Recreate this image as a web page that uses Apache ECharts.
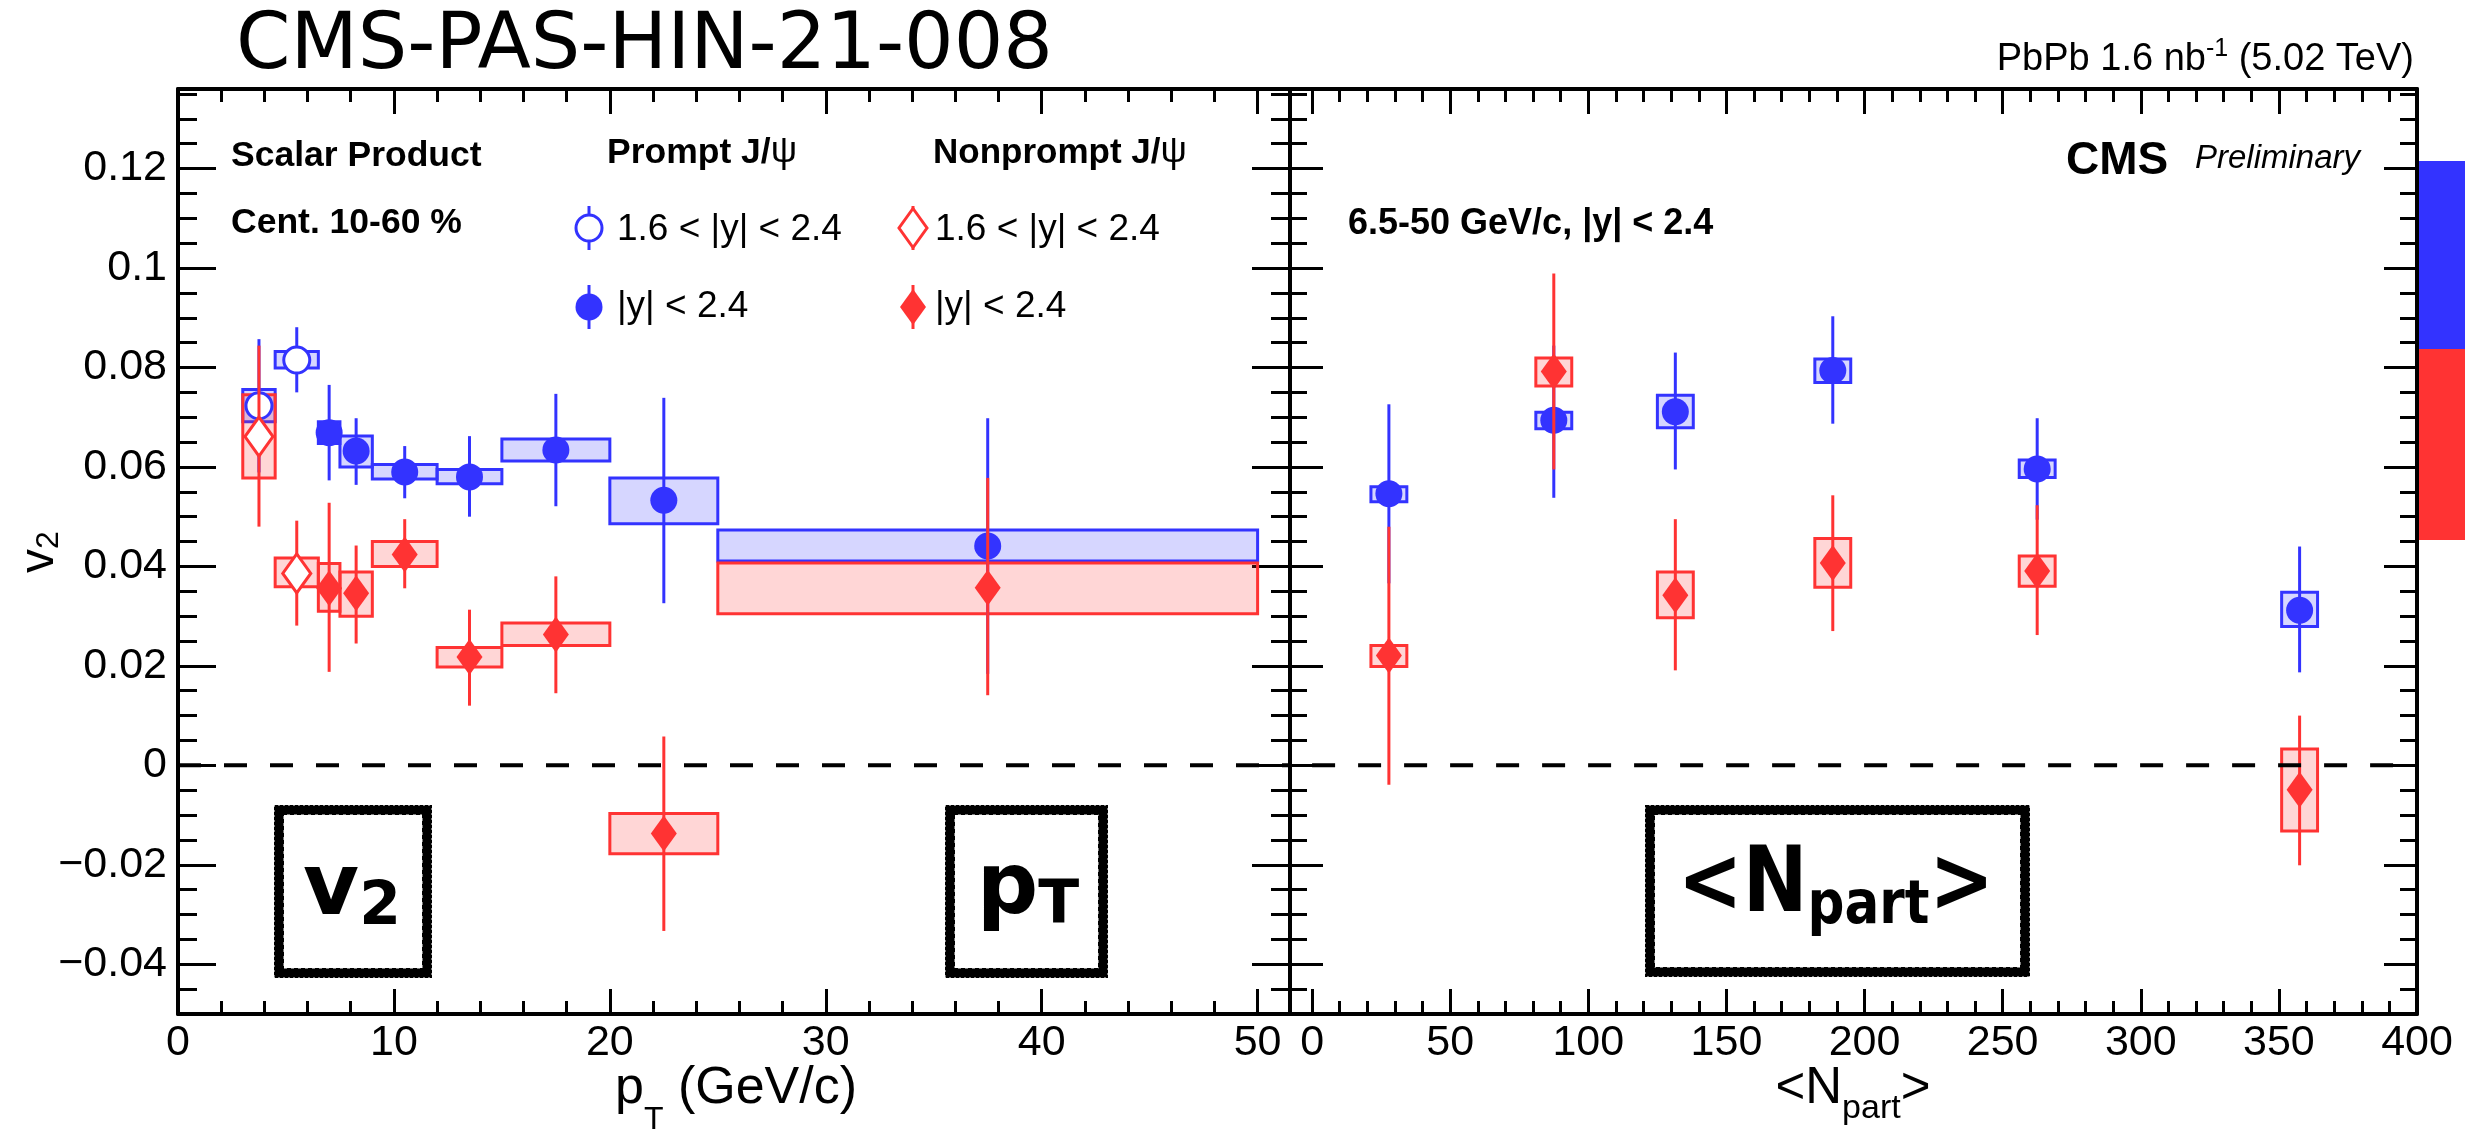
<!DOCTYPE html>
<html>
<head>
<meta charset="utf-8">
<script src="https://cdn.jsdelivr.net/npm/echarts@6/dist/echarts.min.js"></script>
<style>
  html, body { margin: 0; padding: 0; background: #fff; }
  #chart { width: 2465px; height: 1135px; }
</style>
</head>
<body>
<div id="chart"></div>
<script>
// ---------------- data ----------------
// v2 vs pT, prompt J/psi, 1.6 < |y| < 2.4 (open circles)
const ptFwdX      = [3.75, 5.5];
const ptFwdBinLo  = [3.0, 4.5];
const ptFwdBinHi  = [4.5, 6.5];
const promptFwdV2     = [0.0723, 0.0815];
const promptFwdSysLo  = [0.0691, 0.0799];
const promptFwdSysHi  = [0.0756, 0.0832];
const promptFwdStatLo = [0.0589, 0.0750];
const promptFwdStatHi = [0.0857, 0.0881];

// v2 vs pT, nonprompt J/psi, 1.6 < |y| < 2.4 (open diamonds)
const nonpromptFwdV2     = [0.0661, 0.0386];
const nonpromptFwdSysLo  = [0.0578, 0.0359];
const nonpromptFwdSysHi  = [0.0745, 0.0417];
const nonpromptFwdStatLo = [0.0480, 0.0281];
const nonpromptFwdStatHi = [0.0844, 0.0492];

// v2 vs pT, |y| < 2.4
const ptX     = [7.0, 8.25, 10.5, 13.5, 17.5, 22.5, 37.5];
const ptBinLo = [6.5, 7.5, 9, 12, 15, 20, 25];
const ptBinHi = [7.5, 9, 12, 15, 20, 25, 50];
const promptV2     = [0.0669, 0.0632, 0.0590, 0.0580, 0.0634, 0.0533, 0.0441];
const promptSysLo  = [0.0647, 0.0600, 0.0576, 0.0566, 0.0612, 0.0486, 0.0411];
const promptSysHi  = [0.0691, 0.0662, 0.0605, 0.0595, 0.0656, 0.0578, 0.0473];
const promptStatLo = [0.0573, 0.0564, 0.0537, 0.0500, 0.0521, 0.0326, 0.0184];
const promptStatHi = [0.0765, 0.0698, 0.0642, 0.0662, 0.0747, 0.0739, 0.0698];
const nonpromptV2     = [0.0356, 0.0346, 0.0424, 0.0218, 0.0263, -0.0137, 0.0357];
const nonpromptSysLo  = [0.0310, 0.0300, 0.0400, 0.0198, 0.0241, -0.0178, 0.0305];
const nonpromptSysHi  = [0.0406, 0.0389, 0.0450, 0.0237, 0.0286, -0.0097, 0.0407];
const nonpromptStatLo = [0.0188, 0.0245, 0.0356, 0.0120, 0.0145, -0.0333, 0.0141];
const nonpromptStatHi = [0.0528, 0.0442, 0.0495, 0.0313, 0.0380, 0.0058, 0.0578];

// v2 vs <Npart>, 6.5-50 GeV/c, |y| < 2.4
const npartX = [27.8, 87.5, 131.5, 188.5, 262.5, 357.5];
const promptNpartV2     = [0.0546, 0.0694, 0.0711, 0.0794, 0.0596, 0.0312];
const promptNpartSysLo  = [0.0530, 0.0677, 0.0679, 0.0770, 0.0579, 0.0279];
const promptNpartSysHi  = [0.0560, 0.0710, 0.0744, 0.0817, 0.0614, 0.0348];
const promptNpartStatLo = [0.0366, 0.0538, 0.0595, 0.0687, 0.0494, 0.0187];
const promptNpartStatHi = [0.0726, 0.0844, 0.0830, 0.0903, 0.0698, 0.0440];
const nonpromptNpartV2     = [0.0221, 0.0792, 0.0342, 0.0407, 0.0391, -0.0049];
const nonpromptNpartSysLo  = [0.0199, 0.0763, 0.0297, 0.0358, 0.0360, -0.0132];
const nonpromptNpartSysHi  = [0.0241, 0.0819, 0.0389, 0.0456, 0.0421, 0.0033];
const nonpromptNpartStatLo = [-0.0039, 0.0595, 0.0191, 0.0270, 0.0262, -0.0201];
const nonpromptNpartStatHi = [0.0480, 0.0989, 0.0495, 0.0543, 0.0523, 0.0100];

// axes
const ptRange     = [0, 51.5];
const npartRange  = [-8, 400];
const v2Range     = [-0.05, 0.136];
const ptTicks     = [0, 10, 20, 30, 40, 50];
const npartTicks  = [0, 50, 100, 150, 200, 250, 300, 350, 400];
const v2Ticks      = [-0.04, -0.02, 0, 0.02, 0.04, 0.06, 0.08, 0.1, 0.12];
const v2TickLabels = ['\u22120.04', '\u22120.02', '0', '0.02', '0.04', '0.06', '0.08', '0.1', '0.12'];
const zeroLinePt    = [0, 51.5];
const zeroLineNpart = [0, 400];

// ---------------- styling ----------------
const BLUE = '#3333ff', RED = '#ff3333';
const BLUE_FILL = 'rgba(51,51,255,0.2)', RED_FILL = 'rgba(255,51,51,0.2)';
const NPART_BOX_HALF = 6.5;   // half width of systematic boxes on the Npart axis
const HELV = 'Liberation Sans';
const DV = 'DejaVu Sans';

function minorList(majorStep, nSub, lo, hi) {
  const out = [];
  const step = majorStep / nSub;
  const kLo = Math.ceil(lo / step - 1e-9), kHi = Math.floor(hi / step + 1e-9);
  for (let k = kLo; k <= kHi; k++) {
    if (k % nSub !== 0) out.push(Number((k * step).toFixed(6)));
  }
  return out;
}
const ptMinor    = minorList(10, 5, 0, 50);
const npartMinor = minorList(50, 5, 0, 400);
const v2Minor    = minorList(0.02, 4, -0.045, 0.135);

const FRAME = { show: true, onZero: false, lineStyle: { color: '#000', width: 4 } };
const NOLINE = { show: false, onZero: false };
function tick(vals, len) {
  return { show: true, inside: true, length: len, customValues: vals,
           lineStyle: { color: '#000', width: 3 } };
}

function xAxesFor(grid, range, major, minor) {
  const base = { gridIndex: grid, type: 'value', min: range[0], max: range[1],
                 splitLine: { show: false }, axisPointer: { show: false } };
  return [
    Object.assign({}, base, { position: 'bottom', axisLine: FRAME, axisTick: tick(major, 25),
      axisLabel: { show: true, customValues: major, margin: 8, fontSize: 43,
                   fontFamily: HELV, color: '#000' } }),
    Object.assign({}, base, { position: 'bottom', axisLine: NOLINE, axisTick: tick(minor, 13),
      axisLabel: { show: false } }),
    Object.assign({}, base, { position: 'top', axisLine: FRAME, axisTick: tick(major, 25),
      axisLabel: { show: false } }),
    Object.assign({}, base, { position: 'top', axisLine: NOLINE, axisTick: tick(minor, 13),
      axisLabel: { show: false } })
  ];
}

function yAxesFor(grid, withLabels, majorLen, minorLen) {
  const base = { gridIndex: grid, type: 'value', min: v2Range[0], max: v2Range[1],
                 splitLine: { show: false }, axisPointer: { show: false } };
  const label = withLabels ? {
    show: true, customValues: v2Ticks, margin: 11, fontSize: 43, fontFamily: HELV, color: '#000',
    formatter: v => {
      const i = v2Ticks.findIndex(t => Math.abs(t - v) < 1e-9);
      return i >= 0 ? v2TickLabels[i] : '';
    }
  } : { show: false };
  return [
    Object.assign({}, base, { position: 'left', axisLine: FRAME, axisTick: tick(v2Ticks, majorLen), axisLabel: label }),
    Object.assign({}, base, { position: 'left', axisLine: NOLINE, axisTick: tick(v2Minor, minorLen), axisLabel: { show: false } }),
    Object.assign({}, base, { position: 'right', axisLine: FRAME, axisTick: tick(v2Ticks, majorLen), axisLabel: { show: false } }),
    Object.assign({}, base, { position: 'right', axisLine: NOLINE, axisTick: tick(v2Minor, minorLen), axisLabel: { show: false } })
  ];
}

// ---------------- marks ----------------
function markerShape(kind, cx, cy, color) {
  switch (kind) {
    case 'circle':
      return { type: 'circle', shape: { cx, cy, r: 13.5 }, style: { fill: color } };
    case 'circleOpen':
      return { type: 'circle', shape: { cx, cy, r: 13 }, style: { fill: '#fff', stroke: color, lineWidth: 3 } };
    case 'diamond':
      return { type: 'polygon', shape: { points: [[cx, cy - 18], [cx + 13, cy], [cx, cy + 18], [cx - 13, cy]] },
               style: { fill: color } };
    default:
      return { type: 'polygon', shape: { points: [[cx, cy - 19.5], [cx + 14, cy], [cx, cy + 19.5], [cx - 14, cy]] },
               style: { fill: '#fff', stroke: color, lineWidth: 3 } };
  }
}

function boxSeries(axisIdx, xLo, xHi, yLo, yHi, color, fill) {
  return {
    type: 'custom', xAxisIndex: axisIdx, yAxisIndex: axisIdx, silent: true,
    data: xLo.map((_, i) => [xLo[i], xHi[i], yLo[i], yHi[i]]),
    encode: { x: [0, 1], y: [2, 3] },
    renderItem(params, api) {
      const a = api.coord([api.value(0), api.value(3)]);
      const b = api.coord([api.value(1), api.value(2)]);
      return { type: 'rect', shape: { x: a[0], y: a[1], width: b[0] - a[0], height: b[1] - a[1] },
               style: { fill, stroke: color, lineWidth: 3 } };
    }
  };
}

function pointSeries(axisIdx, xs, ys, lo, hi, kind, color) {
  return {
    type: 'custom', xAxisIndex: axisIdx, yAxisIndex: axisIdx, silent: true,
    data: xs.map((x, i) => [x, ys[i], lo[i], hi[i]]),
    encode: { x: 0, y: [1, 2, 3] },
    renderItem(params, api) {
      const c = api.coord([api.value(0), api.value(1)]);
      const top = api.coord([api.value(0), api.value(3)]);
      const bot = api.coord([api.value(0), api.value(2)]);
      return { type: 'group', children: [
        { type: 'line', shape: { x1: c[0], y1: top[1], x2: c[0], y2: bot[1] },
          style: { stroke: color, lineWidth: 3 } },
        markerShape(kind, c[0], c[1], color)
      ] };
    }
  };
}

function zeroLine(axisIdx, xr) {
  return { type: 'line', xAxisIndex: axisIdx, yAxisIndex: axisIdx, silent: true, symbol: 'none',
           data: [[xr[0], 0], [xr[1], 0]],
           lineStyle: { color: '#000', width: 4, type: [23, 23] } };
}

const npBoxLo = npartX.map(x => x - NPART_BOX_HALF);
const npBoxHi = npartX.map(x => x + NPART_BOX_HALF);

// ---------------- text helpers ----------------
const mctx = document.createElement('canvas').getContext('2d');
function fontOf(p) {
  return (p.style || 'normal') + ' ' + (p.weight || 'normal') + ' ' + p.size + 'px "' + (p.family || HELV) + '"';
}
// lays out a run of text pieces on a common baseline
function run(x, baseline, pieces, align) {
  const widths = pieces.map(p => { mctx.font = fontOf(p); return mctx.measureText(p.t).width; });
  const total = widths.reduce((a, b) => a + b, 0);
  let cx = align === 'right' ? x - total : align === 'center' ? x - total / 2 : x;
  return pieces.map((p, i) => {
    const el = {
      type: 'text', x: cx, y: baseline + (p.dy || 0) - 0.346 * p.size, silent: true,
      style: { text: p.t, fill: p.color || '#000', fontSize: p.size, fontFamily: p.family || HELV,
               fontWeight: p.weight || 'normal', fontStyle: p.style || 'normal',
               align: 'left', verticalAlign: 'middle', textAlign: 'left', textVerticalAlign: 'middle' }
    };
    cx += widths[i];
    return el;
  });
}
// same run, horizontally squeezed about its centre
function squeezedRun(cx, baseline, pieces, sx) {
  return [{ type: 'group', x: cx, y: baseline, scaleX: sx, silent: true,
            children: run(0, 0, pieces, 'center') }];
}

function legendGlyph(kind, cx, cy, color) {
  return [
    { type: 'line', silent: true, shape: { x1: cx, y1: cy - 22, x2: cx, y2: cy + 22 },
      style: { stroke: color, lineWidth: 3 } },
    Object.assign(markerShape(kind, cx, cy, color), { silent: true })
  ];
}

function sketchBox(x0, y0, x1, y1) {
  return [
    { type: 'rect', silent: true, shape: { x: x0 + 5, y: y0 + 5, width: x1 - x0 - 10, height: y1 - y0 - 10 },
      style: { fill: 'none', stroke: '#000', lineWidth: 9 } },
    { type: 'rect', silent: true, shape: { x: x0 + 1, y: y0 + 1, width: x1 - x0 - 2, height: y1 - y0 - 2 },
      style: { fill: 'none', stroke: '#000', lineWidth: 2, lineDash: [3, 2] } },
    { type: 'rect', silent: true, shape: { x: x0 + 9, y: y0 + 9, width: x1 - x0 - 18, height: y1 - y0 - 18 },
      style: { fill: 'none', stroke: '#000', lineWidth: 2, lineDash: [4, 3] } }
  ];
}

const graphics = [].concat(
  run(236, 75, [{ t: 'CMS-PAS-HIN-21-008', size: 78, family: DV }]),
  run(2414, 73, [{ t: 'PbPb 1.6 nb', size: 38 }, { t: '-1', size: 25, dy: -15 }, { t: ' (5.02 TeV)', size: 38 }], 'right'),
  run(231, 168, [{ t: 'Scalar Product', size: 35.5, weight: 'bold' }]),
  run(231, 235, [{ t: 'Cent. 10-60 %', size: 35.5, weight: 'bold' }]),
  run(607, 165, [{ t: 'Prompt J/', size: 35.5, weight: 'bold' }, { t: '\u03c8', size: 37 }]),
  run(933, 165, [{ t: 'Nonprompt J/', size: 35, weight: 'bold' }, { t: '\u03c8', size: 37 }]),
  legendGlyph('circleOpen', 589, 228, BLUE),
  run(617, 243, [{ t: '1.6 < |y| < 2.4', size: 37 }]),
  legendGlyph('circle', 589, 307, BLUE),
  run(617, 320, [{ t: '|y| < 2.4', size: 37 }]),
  legendGlyph('diamondOpen', 913, 228, RED),
  run(935, 243, [{ t: '1.6 < |y| < 2.4', size: 37 }]),
  legendGlyph('diamond', 913, 307, RED),
  run(935, 320, [{ t: '|y| < 2.4', size: 37 }]),
  run(1348, 237, [{ t: '6.5-50 GeV/c, |y| < 2.4', size: 36, weight: 'bold' }]),
  run(2066, 177, [{ t: 'CMS', size: 46, weight: 'bold' }]),
  run(2195, 170, [{ t: 'Preliminary', size: 33, style: 'italic' }]),
  // axis titles
  run(736, 1107, [{ t: 'p', size: 52 }, { t: 'T', size: 32, dy: 24 }, { t: ' (GeV/c)', size: 52 }], 'center'),
  run(1853, 1107, [{ t: '<N', size: 51 }, { t: 'part', size: 34, dy: 13 }, { t: '>', size: 51 }], 'center'),
  [{ type: 'group', x: 56, y: 552, rotation: Math.PI / 2, silent: true,
     children: run(0, 0, [{ t: 'v', size: 48 }, { t: '2', size: 32, dy: 4 }], 'center') }],
  // side colour strip
  [{ type: 'rect', silent: true, shape: { x: 2418, y: 161, width: 47, height: 188 }, style: { fill: BLUE } },
   { type: 'rect', silent: true, shape: { x: 2418, y: 349, width: 47, height: 191 }, style: { fill: RED } }],
  // boxed variable names
  sketchBox(274, 805, 432, 978),
  run(352, 921, [{ t: 'v', size: 86, weight: 'bold', family: DV }, { t: '2', size: 60, weight: 'bold', family: DV, dy: 8 }], 'center'),
  sketchBox(945, 805, 1108, 978),
  run(1028, 920, [{ t: 'p', size: 86, weight: 'bold', family: DV }, { t: 'T', size: 60, weight: 'bold', family: DV, dy: 8 }], 'center'),
  sketchBox(1645, 805, 2030, 977),
  squeezedRun(1836, 919, [{ t: '<N', size: 90, weight: 'bold', family: DV },
                          { t: 'part', size: 60, weight: 'bold', family: DV, dy: 9 },
                          { t: '>', size: 90, weight: 'bold', family: DV }], 0.86)
);

const option = {
  animation: false,
  backgroundColor: '#fff',
  grid: [
    { left: 178, top: 89, width: 1112, height: 925 },
    { left: 1290, top: 89, width: 1127, height: 925 }
  ],
  xAxis: [].concat(xAxesFor(0, ptRange, ptTicks, ptMinor), xAxesFor(1, npartRange, npartTicks, npartMinor)),
  yAxis: [].concat(yAxesFor(0, true, 38, 19), yAxesFor(1, false, 33, 17)),
  series: [
    zeroLine(0, zeroLinePt),
    zeroLine(4, zeroLineNpart),
    // systematic boxes
    boxSeries(0, ptFwdBinLo, ptFwdBinHi, promptFwdSysLo, promptFwdSysHi, BLUE, BLUE_FILL),
    boxSeries(0, ptBinLo, ptBinHi, promptSysLo, promptSysHi, BLUE, BLUE_FILL),
    boxSeries(0, ptFwdBinLo, ptFwdBinHi, nonpromptFwdSysLo, nonpromptFwdSysHi, RED, RED_FILL),
    boxSeries(0, ptBinLo, ptBinHi, nonpromptSysLo, nonpromptSysHi, RED, RED_FILL),
    boxSeries(4, npBoxLo, npBoxHi, promptNpartSysLo, promptNpartSysHi, BLUE, BLUE_FILL),
    boxSeries(4, npBoxLo, npBoxHi, nonpromptNpartSysLo, nonpromptNpartSysHi, RED, RED_FILL),
    // points with statistical errors
    pointSeries(0, ptFwdX, promptFwdV2, promptFwdStatLo, promptFwdStatHi, 'circleOpen', BLUE),
    pointSeries(0, ptX, promptV2, promptStatLo, promptStatHi, 'circle', BLUE),
    pointSeries(4, npartX, promptNpartV2, promptNpartStatLo, promptNpartStatHi, 'circle', BLUE),
    pointSeries(0, ptFwdX, nonpromptFwdV2, nonpromptFwdStatLo, nonpromptFwdStatHi, 'diamondOpen', RED),
    pointSeries(0, ptX, nonpromptV2, nonpromptStatLo, nonpromptStatHi, 'diamond', RED),
    pointSeries(4, npartX, nonpromptNpartV2, nonpromptNpartStatLo, nonpromptNpartStatHi, 'diamond', RED)
  ],
  graphic: { elements: graphics }
};

const chart = echarts.init(document.getElementById('chart'), null, { renderer: 'canvas', width: 2465, height: 1135 });
chart.setOption(option);
</script>
</body>
</html>
